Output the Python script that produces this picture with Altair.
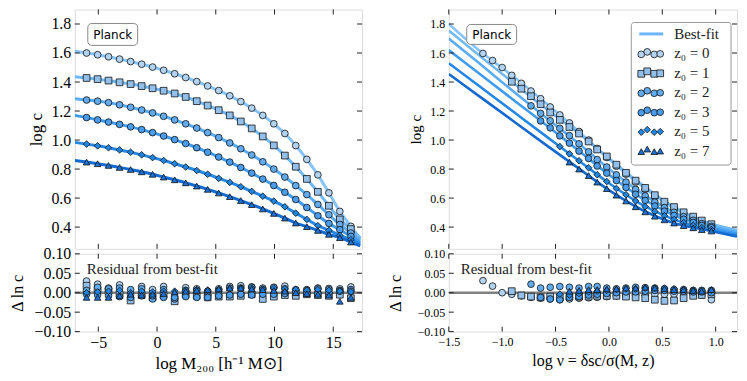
import altair as alt
import pandas as pd

# ---------------- data ----------------
SERIES = ["z₀ = 0", "z₀ = 1", "z₀ = 2", "z₀ = 3", "z₀ = 5", "z₀ = 7"]
SHAPES = ["circle", "square", "circle", "circle", "diamond", "triangle-up"]
MARK_SIZES = [46, 44, 28, 32, 80, 40]
MARK_FILLS = ["#b2d3f1", "#93c0ea", "#62abef", "#4a9cec", "#1f86e4", "#1a72d6"]
LINE_COLORS = ["#86c4fb", "#72b9f8", "#5aacf5", "#409cf0", "#2688e6", "#136ad0"]

# left panel: log M200 grid and log c of each series
LOGM = [-6.0, -5.06, -4.13, -3.19, -2.25, -1.31, -0.38, 0.56, 1.5, 2.44, 3.38, 4.31,
        5.25, 6.19, 7.13, 8.06, 9.0, 9.94, 10.88, 11.81, 12.75, 13.69, 14.63, 15.56, 16.5]
LC_Z0 = [1.600, 1.588, 1.574, 1.558, 1.541, 1.523, 1.503, 1.481, 1.457, 1.431, 1.403, 1.373,
         1.341, 1.305, 1.265, 1.220, 1.170, 1.112, 1.045, 0.962, 0.867, 0.760, 0.636, 0.508, 0.405]
LC_Z1 = [1.428, 1.420, 1.410, 1.398, 1.386, 1.372, 1.357, 1.340, 1.321, 1.297, 1.268, 1.238,
         1.206, 1.170, 1.128, 1.080, 1.025, 0.963, 0.893, 0.816, 0.732, 0.643, 0.547, 0.453, 0.386]
LC_Z2 = [1.276, 1.268, 1.258, 1.243, 1.226, 1.207, 1.187, 1.164, 1.139, 1.112, 1.083, 1.051,
         1.017, 0.980, 0.940, 0.897, 0.850, 0.800, 0.745, 0.686, 0.624, 0.556, 0.485, 0.418, 0.359]
LC_Z3 = [1.155, 1.139, 1.124, 1.108, 1.091, 1.072, 1.051, 1.028, 1.003, 0.976, 0.947, 0.916,
         0.883, 0.848, 0.811, 0.772, 0.731, 0.687, 0.640, 0.590, 0.535, 0.478, 0.425, 0.382, 0.336]
LC_Z5 = [0.972, 0.960, 0.947, 0.932, 0.916, 0.898, 0.879, 0.859, 0.837, 0.814, 0.790, 0.764,
         0.736, 0.708, 0.678, 0.646, 0.613, 0.579, 0.540, 0.496, 0.453, 0.410, 0.377, 0.343, 0.313]
LC_Z7 = [0.848, 0.837, 0.825, 0.811, 0.797, 0.781, 0.764, 0.745, 0.726, 0.705, 0.683, 0.660,
         0.635, 0.610, 0.583, 0.555, 0.525, 0.494, 0.462, 0.428, 0.403, 0.377, 0.350, 0.327, 0.297]
# best-fit line end points (left panel)
FIT_M_START, FIT_M_END = -7.0, 17.3
FIT_L_START = [1.612, 1.436, 1.284, 1.170, 0.984, 0.859]
FIT_L_END = [0.320, 0.325, 0.310, 0.295, 0.285, 0.270]

# right panel: log nu grid, first grid index of each series, log c
NU = [-1.18, -1.09, -1.00, -0.91, -0.82, -0.73, -0.64, -0.55, -0.46, -0.37, -0.28, -0.19,
      -0.11, -0.02, 0.07, 0.16, 0.25, 0.34, 0.43, 0.52, 0.61, 0.70, 0.79, 0.87, 0.96]
NU_START = [0, 3, 5, 6, 8, 9]
RC_Z0 = [1.597, 1.548, 1.500, 1.446, 1.391, 1.338, 1.285, 1.228, 1.173, 1.118, 1.059, 1.000,
         0.942, 0.880, 0.820, 0.765, 0.710, 0.660, 0.612, 0.568, 0.530, 0.495, 0.465, 0.437, 0.410]
RC_Z1 = [1.402, 1.354, 1.302, 1.247, 1.190, 1.139, 1.090, 1.045, 0.990, 0.935, 0.887, 0.830,
         0.774, 0.720, 0.670, 0.620, 0.575, 0.538, 0.502, 0.472, 0.445, 0.420]
RC_Z2 = [1.236, 1.184, 1.133, 1.081, 1.030, 0.974, 0.919, 0.865, 0.814, 0.760, 0.710, 0.660,
         0.615, 0.572, 0.534, 0.502, 0.472, 0.447, 0.424, 0.405]
RC_Z3 = [1.132, 1.084, 1.029, 0.979, 0.924, 0.873, 0.821, 0.772, 0.721, 0.673, 0.626, 0.584,
         0.545, 0.510, 0.481, 0.454, 0.432, 0.412, 0.396]
RC_Z5 = [0.955, 0.905, 0.857, 0.809, 0.761, 0.714, 0.666, 0.623, 0.580, 0.541, 0.507, 0.478,
         0.452, 0.430, 0.412, 0.396, 0.383]
RC_Z7 = [0.848, 0.800, 0.755, 0.710, 0.665, 0.620, 0.580, 0.540, 0.505, 0.475, 0.450, 0.428,
         0.410, 0.395, 0.382, 0.373]
# best-fit lines (right panel)
FIT_NU = [-1.5, -1.2, -0.9, -0.6, -0.3, 0.0, 0.3, 0.6, 0.9, 1.2]
RF_Z0 = [1.800, 1.608, 1.441, 1.260, 1.072, 0.867, 0.688, 0.534, 0.434, 0.370]
RF_Z1 = [1.755, 1.575, 1.397, 1.222, 1.055, 0.875, 0.698, 0.542, 0.437, 0.380]
RF_Z2 = [1.700, 1.520, 1.338, 1.161, 0.986, 0.802, 0.638, 0.505, 0.418, 0.365]
RF_Z3 = [1.620, 1.450, 1.280, 1.111, 0.936, 0.761, 0.603, 0.484, 0.405, 0.355]
RF_Z5 = [1.530, 1.364, 1.198, 1.032, 0.868, 0.703, 0.558, 0.455, 0.390, 0.345]
RF_Z7 = [1.455, 1.294, 1.133, 0.972, 0.813, 0.655, 0.523, 0.430, 0.382, 0.335]

# residuals (Delta ln c), left panel (same LOGM grid)
RL_Z0 = [0.030, 0.022, 0.012, 0.020, -0.005, 0.016, 0.008, 0.016, -0.010, 0.013, 0.010, -0.006,
         0.010, 0.016, 0.018, 0.015, 0.012, 0.013, 0.017, 0.006, 0.008, 0.012, 0.011, 0.010, 0.015]
RL_Z1 = [0.018, 0.008, 0.004, -0.004, -0.020, -0.006, -0.012, -0.006, -0.022, -0.004, -0.008, -0.012,
         -0.010, -0.010, -0.008, -0.004, -0.016, -0.010, -0.006, -0.008, -0.004, -0.006, -0.008, -0.005, -0.014]
RL_Z2 = [0.006, 0.014, 0.010, 0.012, 0.008, 0.010, -0.016, 0.008, -0.016, 0.006, 0.006, 0.004,
         0.006, 0.012, 0.012, 0.014, 0.008, 0.014, 0.010, 0.008, 0.006, 0.010, 0.008, 0.006, 0.008]
RL_Z3 = [-0.004, -0.006, -0.008, -0.010, -0.012, -0.008, -0.008, -0.012, -0.012, -0.010, -0.012, -0.012,
         -0.008, -0.006, -0.004, -0.006, -0.004, -0.004, -0.002, 0.002, -0.002, -0.002, 0.000, 0.004, 0.004]
RL_Z5 = [0.000, 0.002, 0.004, 0.006, 0.000, 0.004, 0.002, 0.004, 0.004, 0.006, 0.008, 0.006,
         0.008, 0.010, 0.012, 0.012, 0.010, 0.012, 0.010, 0.008, 0.006, 0.008, 0.006, 0.004, 0.002]
RL_Z7 = [-0.012, -0.012, -0.012, -0.008, -0.004, -0.006, -0.004, -0.002, 0.002, 0.004, 0.006, 0.008,
         0.010, 0.012, 0.012, 0.010, 0.008, 0.006, 0.004, 0.000, -0.002, -0.004, -0.006, -0.022, -0.012]
# residuals, right panel (same NU grid / starts as above)
RR_Z0 = [0.031, 0.017, 0.000, -0.004, -0.008, -0.012, -0.014, -0.016, -0.018, -0.016, -0.014, -0.013,
         -0.012, -0.010, -0.008, -0.008, -0.006, -0.006, -0.004, -0.004, -0.004, -0.003, -0.004, -0.006, -0.018]
RR_Z1 = [0.004, -0.007, -0.010, -0.012, -0.010, -0.012, -0.010, -0.010, -0.010, -0.008, -0.008, -0.008,
         -0.010, -0.012, -0.014, -0.018, -0.021, -0.020, -0.014, -0.008, -0.006, -0.004]
RR_Z2 = [0.022, 0.012, 0.014, 0.016, 0.014, 0.012, 0.016, 0.016, 0.012, 0.010, 0.012, 0.014,
         0.013, 0.012, 0.010, 0.008, 0.008, 0.006, 0.006, 0.006]
RR_Z3 = [-0.012, -0.016, -0.018, -0.012, -0.010, -0.006, -0.004, -0.002, 0.000, 0.002, 0.002, 0.004,
         0.006, 0.006, 0.004, 0.004, 0.002, 0.002, 0.000]
RR_Z5 = [-0.004, -0.006, -0.002, 0.002, 0.004, 0.006, 0.008, 0.010, 0.010, 0.012, 0.012, 0.012,
         0.010, 0.008, 0.006, 0.006, 0.006]
RR_Z7 = [0.004, 0.006, 0.008, 0.008, 0.010, 0.010, 0.012, 0.012, 0.014, 0.012, 0.010, 0.008,
         0.008, 0.006, 0.004, 0.008]

LEFT_XTICKS = [-5, 0, 5, 10, 15]
RIGHT_XTICKS = [-1.5, -1.0, -0.5, 0.0, 0.5, 1.0]
TOP_YTICKS = [0.4, 0.6, 0.8, 1.0, 1.2, 1.4, 1.6, 1.8]
RES_YTICKS = [-0.10, -0.05, 0.0, 0.05, 0.10]

# ---------------- layout / style ----------------
W_L, W_R, H_T, H_B = 288, 289, 240, 78
XL_DOM = [-7.0, 17.45]
XR_DOM = [-1.5, 1.2]
YT_DOM = [0.25, 1.9]
YB_DOM = [-0.1, 0.1]
SERIF = "Liberation Serif"
SANS = "DejaVu Sans"
FRAME = "#222222"
ONE = pd.DataFrame({"a": [0]})


def sc(dom):
    return alt.Scale(domain=dom, nice=False, zero=False)


def table(xs_list, ys_list):
    rows = []
    for name, xs, ys in zip(SERIES, xs_list, ys_list):
        for x, y in zip(xs, ys):
            rows.append({"series": name, "x": x, "y": y})
    return pd.DataFrame(rows)


def yaxis(title, values, fmt, lsize, tsize, tpad):
    return alt.Axis(title=title, values=values, format=fmt, labelFont=SERIF, labelFontSize=lsize,
                    titleFont=SERIF, titleFontSize=tsize, titleFontWeight="normal", ticks=False,
                    domain=False, grid=False, labelPadding=4, titlePadding=tpad,
                    labelColor="black", titleColor="black")


def xaxis(title, values, fmt, lsize, tsize, lpad=3):
    return alt.Axis(title=title, values=values, format=fmt, labelFont=SERIF, labelFontSize=lsize,
                    titleFont=SERIF, titleFontSize=tsize, titleFontWeight="normal", ticks=False,
                    domain=False, grid=False, labelPadding=lpad, titlePadding=5,
                    labelColor="black", titleColor="black", labelFlush=False)


class Panel:
    def __init__(self, xdom, ydom, w, h, xax, yax):
        self.xdom, self.ydom, self.w, self.h = xdom, ydom, w, h
        self.xax, self.yax = xax, yax

    def X(self, field):
        return alt.X(field, scale=sc(self.xdom), axis=self.xax)

    def Y(self, field):
        return alt.Y(field, scale=sc(self.ydom), axis=self.yax)

    def points(self, df):
        return alt.Chart(df).mark_point(filled=True, stroke="#111111", strokeWidth=0.8, opacity=1).encode(
            x=self.X("x:Q"), y=self.Y("y:Q"),
            shape=alt.Shape("series:N", scale=alt.Scale(domain=SERIES, range=SHAPES), legend=None),
            fill=alt.Fill("series:N", scale=alt.Scale(domain=SERIES, range=MARK_FILLS), legend=None),
            size=alt.Size("series:N", scale=alt.Scale(domain=SERIES, range=MARK_SIZES), legend=None),
        )

    def lines(self, df, width):
        return alt.Chart(df).mark_line(strokeWidth=width, clip=True, interpolate="monotone").encode(
            x=self.X("x:Q"), y=self.Y("y:Q"),
            color=alt.Color("series:N", scale=alt.Scale(domain=SERIES, range=LINE_COLORS), legend=None),
            detail="series:N",
        )

    def ticks(self, xt, yt, L=5):
        dx = pd.DataFrame({"x": xt})
        dy = pd.DataFrame({"y": yt})
        bx = alt.Chart(dx).mark_rule(color=FRAME, strokeWidth=1)
        by = alt.Chart(dy).mark_rule(color=FRAME, strokeWidth=1)
        return [
            bx.encode(x=self.X("x:Q"), y=alt.value(self.h), y2=alt.value(self.h - L)),
            bx.encode(x=self.X("x:Q"), y=alt.value(0), y2=alt.value(L)),
            by.encode(y=self.Y("y:Q"), x=alt.value(0), x2=alt.value(L)),
            by.encode(y=self.Y("y:Q"), x=alt.value(self.w), x2=alt.value(self.w - L)),
        ]

    def zero_line(self):
        return alt.Chart(pd.DataFrame({"y": [0.0]})).mark_rule(color="#808080", strokeWidth=2.5).encode(
            y=self.Y("y:Q"))


def label_box(x0, x1, y0, y1, text):
    box = alt.Chart(ONE).mark_rect(fill="white", stroke="#888888", strokeWidth=1, cornerRadius=4).encode(
        x=alt.value(x0), x2=alt.value(x1), y=alt.value(y0), y2=alt.value(y1))
    txt = alt.Chart(ONE).mark_text(text=text, font=SANS, fontSize=12, align="center",
                                   baseline="middle", color="black").encode(
        x=alt.value((x0 + x1) / 2), y=alt.value((y0 + y1) / 2 + 0.5))
    return [box, txt]


def residual_text():
    return alt.Chart(ONE).mark_text(text="Residual from best-fit", font=SERIF, fontSize=15,
                                    align="left", baseline="middle", color="#222222").encode(
        x=alt.value(12), y=alt.value(15))


# ---------------- left column ----------------
LC_ALL = [LC_Z0, LC_Z1, LC_Z2, LC_Z3, LC_Z5, LC_Z7]
left_pts = table([LOGM] * 6, LC_ALL)
left_fit = table([[FIT_M_START] + LOGM + [FIT_M_END]] * 6,
                 [[s] + v + [e] for s, v, e in zip(FIT_L_START, LC_ALL, FIT_L_END)])

pLT = Panel(XL_DOM, YT_DOM, W_L, H_T, None, yaxis("log c", TOP_YTICKS, ".1f", 16, 17, 5))
left_top = alt.layer(
    pLT.lines(left_fit, 3),
    pLT.points(left_pts),
    *pLT.ticks(LEFT_XTICKS, TOP_YTICKS),
    *label_box(13, 63, 14, 36, "Planck"),
).properties(width=W_L, height=H_T)

pLB = Panel(XL_DOM, YB_DOM, W_L, H_B,
            xaxis("log M₂₀₀ [h⁻¹ M⊙]", LEFT_XTICKS, "d", 16, 17),
            yaxis("Δ ln c", RES_YTICKS, ".2f", 16, 16, 8))
left_res = table([LOGM] * 6, [RL_Z0, RL_Z1, RL_Z2, RL_Z3, RL_Z5, RL_Z7])
left_bot = alt.layer(
    pLB.zero_line(),
    pLB.points(left_res),
    *pLB.ticks(LEFT_XTICKS, RES_YTICKS),
    residual_text(),
).properties(width=W_L, height=H_B)

left_col = alt.vconcat(left_top, left_bot, spacing=5, bounds="flush")

# ---------------- right column ----------------
rc_vals = [RC_Z0, RC_Z1, RC_Z2, RC_Z3, RC_Z5, RC_Z7]
rr_vals = [RR_Z0, RR_Z1, RR_Z2, RR_Z3, RR_Z5, RR_Z7]
nu_lists = [NU[s:] for s in NU_START]
right_pts = table(nu_lists, rc_vals)
right_fit = table([FIT_NU] * 6, [RF_Z0, RF_Z1, RF_Z2, RF_Z3, RF_Z5, RF_Z7])


def px2x(px):
    return XR_DOM[0] + px / W_R * (XR_DOM[1] - XR_DOM[0])


def py2y(py):
    return YT_DOM[1] - py / H_T * (YT_DOM[1] - YT_DOM[0])


pRT = Panel(XR_DOM, YT_DOM, W_R, H_T, None, yaxis("log c", TOP_YTICKS, ".1f", 12, 15, 6))

# legend (drawn inside the right panel)
LEG_X0, LEG_X1, LEG_Y0, LEG_Y1 = 183, 283, 13, 156
LEG_ROW0, LEG_DY = 24.5, 19.5
MK_X = [193, 199, 206, 212]
MK_DY = [1.0, -1.5, 1.0, 0.5]
leg_rows = []
for i, name in enumerate(SERIES):
    for mx, mdy in zip(MK_X, MK_DY):
        leg_rows.append({"series": name, "x": px2x(mx), "y": py2y(LEG_ROW0 + LEG_DY * (i + 1) + mdy)})
leg_pts = pd.DataFrame(leg_rows)
leg_txt = pd.DataFrame({"label": ["Best-fit"] + SERIES,
                        "y": [py2y(LEG_ROW0 + LEG_DY * i) for i in range(7)],
                        "x": [px2x(226)] * 7})

legend_layers = [
    alt.Chart(ONE).mark_rect(fill="white", stroke="#999999", strokeWidth=1, cornerRadius=3).encode(
        x=alt.value(LEG_X0), x2=alt.value(LEG_X1), y=alt.value(LEG_Y0), y2=alt.value(LEG_Y1)),
    alt.Chart(ONE).mark_rule(color="#6db5f8", strokeWidth=3).encode(
        x=alt.value(191), x2=alt.value(215), y=alt.value(LEG_ROW0)),
    pRT.points(leg_pts),
    alt.Chart(leg_txt).mark_text(font=SERIF, fontSize=15, align="left", baseline="middle",
                                 color="#222222").encode(
        x=pRT.X("x:Q"), y=pRT.Y("y:Q"), text="label:N"),
]

right_top = alt.layer(
    pRT.lines(right_fit, 2.6),
    pRT.points(right_pts),
    *pRT.ticks(RIGHT_XTICKS, TOP_YTICKS),
    *label_box(18, 68, 15, 35, "Planck"),
    *legend_layers,
).properties(width=W_R, height=H_T)

pRB = Panel(XR_DOM, YB_DOM, W_R, H_B,
            xaxis("log ν = δsc/σ(M, z)", RIGHT_XTICKS, ".1f", 12, 16, lpad=5),
            yaxis("Δ ln c", RES_YTICKS, ".2f", 12, 16, 14))
right_res = table(nu_lists, rr_vals)
right_bot = alt.layer(
    pRB.zero_line(),
    pRB.points(right_res),
    *pRB.ticks(RIGHT_XTICKS, RES_YTICKS),
    residual_text(),
).properties(width=W_R, height=H_B)

right_col = alt.vconcat(right_top, right_bot, spacing=5, bounds="flush")

chart = alt.hconcat(left_col, right_col, spacing=22).properties(
    padding={"left": 1, "top": 0, "right": 0, "bottom": 0}
).configure_view(stroke=FRAME, strokeWidth=1.3).configure(background="white")

chart.save("out.html", embed_options={"renderer": "svg", "actions": False})
